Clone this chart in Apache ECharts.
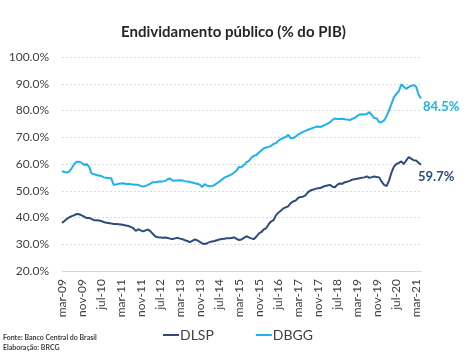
<!DOCTYPE html>
<html>
<head>
<meta charset="utf-8">
<script src="https://cdn.jsdelivr.net/npm/echarts@6/dist/echarts.min.js"></script>
<style>
html,body{margin:0;padding:0;background:#fff;}
#chart{width:467px;height:364px;}
</style>
</head>
<body>
<div id="chart"></div>
<script>
// Monthly categories mar-09 .. may-21
const monthLabels = ['jan','feb','mar','apr','may','jun','jul','aug','sep','oct','nov','dec'];
const categories = [];
for (let y = 2009, m = 2; !(y === 2021 && m === 5); ) {
  categories.push(monthLabels[m] + '-' + String(y % 100).padStart(2, '0'));
  m++; if (m === 12) { m = 0; y++; }
}

const dlsp = [
38.0,38.7,39.5,40.1,40.5,40.9,41.3,41.2,40.8,40.3,
39.8,39.8,39.5,39.0,39.0,38.9,38.7,38.3,38.0,37.9,
37.8,37.6,37.6,37.5,37.4,37.2,37.0,36.8,36.5,36.0,
35.0,35.6,35.2,34.8,35.2,35.5,34.8,33.8,32.9,32.6,
32.5,32.4,32.5,32.3,32.1,32.0,32.2,32.4,32.1,31.9,
31.5,31.2,30.8,31.3,31.8,31.5,30.9,30.3,30.1,30.4,
30.8,31.0,31.2,31.5,31.8,32.0,32.1,32.2,32.2,32.3,
32.6,32.0,31.6,31.8,32.4,33.0,32.6,32.2,31.9,32.8,
34.0,34.5,35.5,36.0,37.4,38.5,39.0,40.8,41.8,42.5,
43.4,43.8,44.2,45.4,46.0,46.3,47.3,47.7,47.8,48.3,
49.4,50.1,50.4,50.7,50.9,51.0,51.4,51.8,52.0,52.2,
51.5,51.3,52.3,52.7,52.6,53.2,53.4,53.7,54.2,54.3,
54.5,54.7,54.9,55.0,55.4,54.8,55.1,55.3,55.1,55.0,
53.4,52.2,51.7,53.8,56.8,59.0,60.0,60.4,61.0,60.0,
61.3,62.6,62.0,61.4,61.3,60.5,59.7
];

const dbgg = [
57.3,57.0,56.8,57.2,58.5,60.0,60.8,60.8,60.5,59.6,
60.0,59.0,56.5,56.2,55.9,55.7,55.5,55.0,54.9,54.8,
54.7,52.2,52.3,52.6,52.7,52.8,52.5,52.6,52.4,52.3,
52.2,52.2,51.8,51.6,51.8,52.2,52.7,53.2,53.2,53.4,
53.5,53.5,53.7,54.3,54.6,53.7,53.8,53.8,53.9,53.8,
53.6,53.5,53.3,53.1,52.8,52.6,52.3,51.4,52.5,51.9,
51.7,51.8,52.1,52.8,53.4,54.1,54.9,55.3,55.7,56.1,
56.8,57.6,58.9,58.8,59.6,60.6,61.2,62.3,63.1,63.3,
64.2,65.0,65.8,66.2,66.4,66.7,67.5,67.8,68.7,69.3,
69.8,70.1,70.9,69.6,69.7,70.2,71.0,71.5,72.0,72.4,
72.8,73.1,73.5,73.8,74.0,73.8,74.2,74.6,75.1,75.6,
76.5,77.0,76.8,76.8,76.9,76.7,76.6,76.4,76.9,77.2,
77.9,78.5,78.6,78.5,78.7,79.4,78.3,77.2,77.0,75.6,
75.7,76.3,77.9,80.0,82.5,85.0,86.2,87.2,89.8,88.9,
88.1,88.8,89.2,89.5,88.9,86.0,84.5
];

const seriesNames = ['DLSP', 'DBGG'];
const colors = ['#2E4B7C', '#1DB2EE'];
const titleText = 'Endividamento público (% do PIB)';
const sourceLines = ['Fonte: Banco Central do Brasil', 'Elaboração: BRCG'];
const FONT = 'Lato, "Open Sans", sans-serif';

const chart = echarts.init(document.getElementById('chart'), null, { renderer: 'canvas' });
chart.setOption({
  animation: false,
  backgroundColor: '#ffffff',
  textStyle: { fontFamily: FONT },
  title: {
    text: titleText,
    left: 'center',
    top: 20,
    textStyle: { fontFamily: FONT, fontSize: 15, fontWeight: 'bold', color: '#262626' }
  },
  grid: { left: 62, right: 46, top: 57, bottom: 93, containLabel: false },
  legend: {
    data: seriesNames,
    bottom: 17,
    left: 158,
    itemGap: 42,
    itemWidth: 16,
    itemHeight: 2,
    icon: 'rect',
    textStyle: { fontFamily: FONT, fontSize: 14, color: '#404040', padding: [0, 0, 0, -4] }
  },
  xAxis: {
    type: 'category',
    data: categories,
    boundaryGap: false,
    axisLine: { lineStyle: { color: '#d9d9d9', width: 1 } },
    axisTick: { show: false },
    axisLabel: {
      interval: 7,
      rotate: 90,
      margin: 8,
      fontFamily: FONT,
      fontSize: 12,
      color: '#404040'
    }
  },
  yAxis: {
    type: 'value',
    min: 20,
    max: 100,
    interval: 10,
    axisLine: { show: false },
    axisTick: { show: false },
    axisLabel: {
      margin: 13,
      fontFamily: FONT,
      fontSize: 12,
      color: '#404040',
      formatter: v => v.toFixed(1) + '%'
    },
    splitLine: { lineStyle: { color: '#d9d9d9', type: [2, 2], width: 1 } }
  },
  series: [
    {
      name: seriesNames[0],
      type: 'line',
      data: dlsp,
      showSymbol: false,
      symbol: 'none',
      lineStyle: { color: colors[0], width: 2 },
      itemStyle: { color: colors[0] },
      endLabel: {
        show: true, distance: 0, offset: [-3, 12],
        formatter: p => Number(p.value).toFixed(1) + '%',
        fontFamily: FONT, fontSize: 13, fontWeight: 'bold', color: colors[0]
      }
    },
    {
      name: seriesNames[1],
      type: 'line',
      data: dbgg,
      showSymbol: false,
      symbol: 'none',
      lineStyle: { color: colors[1], width: 2 },
      itemStyle: { color: colors[1] },
      endLabel: {
        show: true, distance: 2, offset: [0, 8],
        formatter: p => Number(p.value).toFixed(1) + '%',
        fontFamily: FONT, fontSize: 13, fontWeight: 'bold', color: colors[1]
      }
    }
  ],
  graphic: [
    {
      type: 'text', left: 3, top: 334,
      style: { text: sourceLines[0], fontFamily: FONT, fontSize: 7, fontWeight: 'bold', fill: '#404040' }
    },
    {
      type: 'text', left: 3, top: 344,
      style: { text: sourceLines[1], fontFamily: FONT, fontSize: 7, fontWeight: 'bold', fill: '#404040' }
    }
  ]
});
</script>
</body>
</html>
